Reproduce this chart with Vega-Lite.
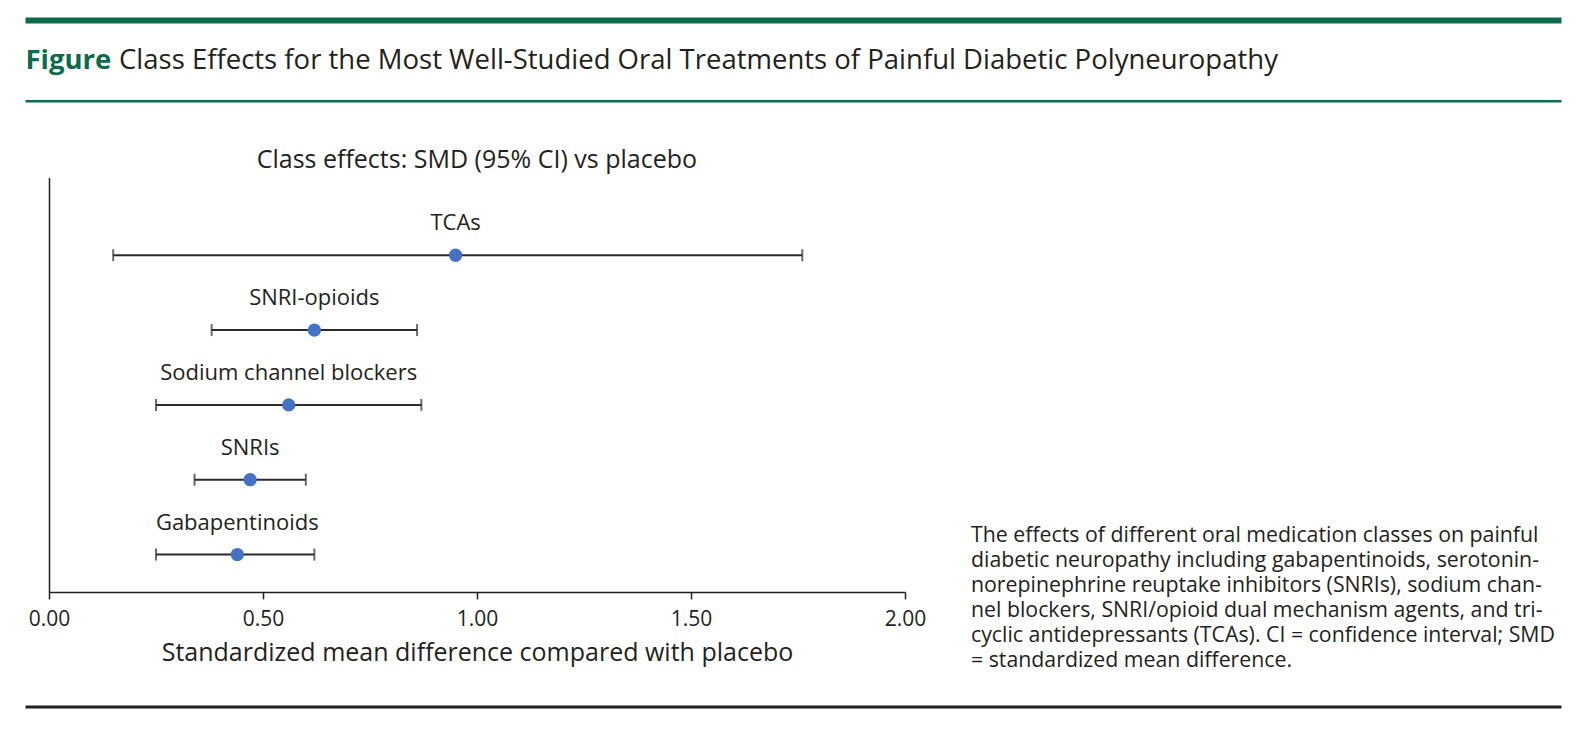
{
  "$schema": "https://vega.github.io/schema/vega-lite/v6.json",
  "background": "white",
  "padding": {"left": 25, "top": 20, "right": 5, "bottom": 5},
  "config": {"view": {"stroke": null}, "font": "Open Sans", "axis": {"grid": false}},
  "bounds": "flush",
  "spacing": 76.55,
  "vconcat": [
    {
      "width": 1536,
      "height": 80.75,
      "data": {"values": []},
      "layer": [
        {
          "mark": "point",
          "encoding": {
            "x": {"datum": 0, "type": "quantitative", "scale": {"domain": [0, 1]},
              "axis": {"orient": "top", "domain": true, "domainColor": "#0d6b4b", "domainWidth": 6, "ticks": false, "labels": false, "grid": false,
                "title": "Class Effects for the Most Well-Studied Oral Treatments of Painful Diabetic Polyneuropathy",
                "titleX": 93.5, "titleY": 48, "titleAlign": "left", "titleBaseline": "alphabetic", "titleAngle": 0,
                "titleFontSize": 27.5, "titleFontWeight": "normal", "titleColor": "#231f20"}},
            "y": {"datum": 0, "type": "quantitative", "scale": {"domain": [0, 1]},
              "axis": {"orient": "left", "domain": false, "ticks": false, "labels": false, "grid": false,
                "title": "Figure", "titleX": 0, "titleY": 48, "titleAngle": 0, "titleAlign": "left", "titleBaseline": "alphabetic",
                "titleFontSize": 27.5, "titleFontWeight": "bold", "titleColor": "#0d6b4b"}}
          }
        },
        {
          "mark": "point",
          "encoding": {
            "x": {"datum": 0, "type": "quantitative", "scale": {"domain": [0, 1]},
              "axis": {"orient": "bottom", "domain": true, "domainColor": "#0d6b4b", "domainWidth": 2.5, "ticks": false, "labels": false, "grid": false, "title": null}}
          }
        }
      ],
      "resolve": {"scale": {"x": "independent"}, "axis": {"x": "independent"}}
    },
    {
      "width": 1536,
      "height": 414.4,
      "title": {"text": "Class effects: SMD (95% CI) vs placebo", "anchor": "start", "frame": "group", "dx": 231.7, "dy": 23.5, "offset": 8, "baseline": "alphabetic", "fontSize": 25, "fontWeight": "normal", "color": "#231f20"},
      "data": {"values": [
        {"cls": "TCAs", "smd": 0.95, "lo": 0.15, "hi": 1.76},
        {"cls": "SNRI-opioids", "smd": 0.62, "lo": 0.38, "hi": 0.86},
        {"cls": "Sodium channel blockers", "smd": 0.56, "lo": 0.25, "hi": 0.87},
        {"cls": "SNRIs", "smd": 0.47, "lo": 0.34, "hi": 0.6},
        {"cls": "Gabapentinoids", "smd": 0.44, "lo": 0.25, "hi": 0.62}
      ]},
      "encoding": {
        "y": {"field": "cls", "type": "nominal",
          "sort": ["TCAs", "SNRI-opioids", "Sodium channel blockers", "SNRIs", "Gabapentinoids"],
          "scale": {"type": "point", "padding": 0.769, "align": 0.675},
          "axis": {"orient": "left", "offset": -24, "domain": true, "domainColor": "#231f20", "domainWidth": 1.5, "ticks": false, "labels": false, "grid": false,
            "title": ["The effects of different oral medication classes on painful", "diabetic neuropathy including gabapentinoids, serotonin-", "norepinephrine reuptake inhibitors (SNRIs), sodium chan-", "nel blockers, SNRI/opioid dual mechanism agents, and tri-", "cyclic antidepressants (TCAs). CI = confidence interval; SMD", "= standardized mean difference."],
            "titleAngle": 0, "titleX": 921.5, "titleY": 364.4, "titleAlign": "left", "titleBaseline": "alphabetic",
            "titleFontSize": 21.3, "titleLineHeight": 25, "titleFontWeight": "normal", "titleColor": "#231f20"}}
      },
      "layer": [
        {
          "mark": {"type": "rule", "color": "#2b2b2b", "strokeWidth": 2},
          "encoding": {
            "x": {"field": "lo", "type": "quantitative", "scale": {"domain": [0, 2], "range": [24, 880], "nice": false, "zero": false},
              "axis": {"values": [0, 0.5, 1, 1.5, 2], "format": ".2f", "domainColor": "#231f20", "domainWidth": 1.5,
                "tickColor": "#231f20", "tickWidth": 1.5, "tickSize": 7, "labelFontSize": 21, "labelColor": "#231f20", "labelPadding": 10, "labelFlush": false,
                "title": "Standardized mean difference compared with placebo", "titleFontSize": 25, "titleFontWeight": "normal", "titleColor": "#231f20",
                "titleX": 452, "titleY": 68.3, "titleBaseline": "alphabetic", "titleAlign": "center", "grid": false}},
            "x2": {"field": "hi"}
          }
        },
        {
          "mark": {"type": "tick", "color": "#2b2b2b", "thickness": 2, "size": 12, "orient": "vertical"},
          "encoding": {"x": {"field": "lo", "type": "quantitative"}}
        },
        {
          "mark": {"type": "tick", "color": "#2b2b2b", "thickness": 2, "size": 12, "orient": "vertical"},
          "encoding": {"x": {"field": "hi", "type": "quantitative"}}
        },
        {
          "mark": {"type": "circle", "size": 177, "color": "#4472c4", "opacity": 1},
          "encoding": {"x": {"field": "smd", "type": "quantitative"}}
        },
        {
          "mark": {"type": "text", "dy": -25, "fontSize": 22, "baseline": "alphabetic", "align": "center", "color": "#231f20"},
          "encoding": {"x": {"field": "smd", "type": "quantitative"}, "text": {"field": "cls"}}
        }
      ]
    },
    {
      "width": 1536,
      "height": 37.5,
      "data": {"values": []},
      "mark": "point",
      "encoding": {
        "x": {"datum": 0, "type": "quantitative", "scale": {"domain": [0, 1]},
          "axis": {"orient": "bottom", "domain": true, "domainColor": "#231f20", "domainWidth": 3, "ticks": false, "labels": false, "grid": false, "title": null}}
      }
    }
  ]
}
